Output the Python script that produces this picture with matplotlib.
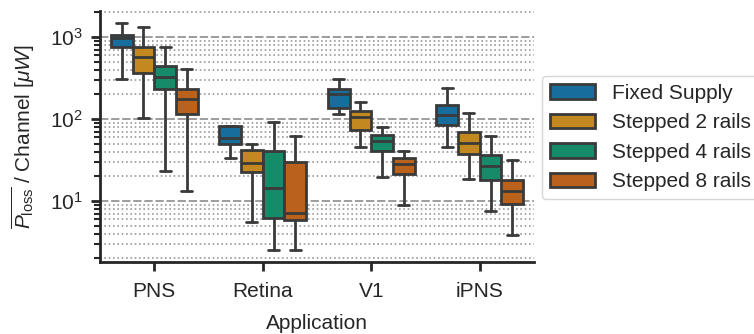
import matplotlib
matplotlib.use("Agg")
import matplotlib.pyplot as plt
import seaborn as sns
from matplotlib.patches import Patch

# ---- data ----
applications = ["PNS", "Retina", "V1", "iPNS"]
series = ["Fixed Supply", "Stepped 2 rails", "Stepped 4 rails", "Stepped 8 rails"]

# per series: values for each application
whislo = {
    "Fixed Supply":    [305, 33.7, 114, 46],
    "Stepped 2 rails": [102, 5.5, 45.6, 18.5],
    "Stepped 4 rails": [23, 2.52, 19.6, 7.6],
    "Stepped 8 rails": [13.1, 2.52, 8.87, 3.82],
}
q1 = {
    "Fixed Supply":    [762, 49, 135, 84.5],
    "Stepped 2 rails": [367, 22.4, 74, 37.8],
    "Stepped 4 rails": [234, 6.15, 40.8, 18],
    "Stepped 8 rails": [114, 5.87, 21.2, 9.2],
}
med = {
    "Fixed Supply":    [980, 59, 200, 112],
    "Stepped 2 rails": [575, 28.8, 106, 51.4],
    "Stepped 4 rails": [328, 14.5, 54, 26.5],
    "Stepped 8 rails": [174, 7.08, 28, 13.1],
}
q3 = {
    "Fixed Supply":    [1067, 82.8, 232, 147],
    "Stepped 2 rails": [755, 41.5, 126, 70],
    "Stepped 4 rails": [440, 40.8, 64.4, 36],
    "Stepped 8 rails": [232, 29.7, 33.2, 18],
}
whishi = {
    "Fixed Supply":    [1468, 82.8, 310, 241],
    "Stepped 2 rails": [1312, 49, 160, 119],
    "Stepped 4 rails": [749, 92.7, 79.8, 62.5],
    "Stepped 8 rails": [407, 62, 40.8, 31.6],
}

# ---- style ----
sns.set_style("ticks")
plt.rcParams["font.family"] = ["Liberation Sans", "DejaVu Sans"]
plt.rcParams["mathtext.fontset"] = "custom"
plt.rcParams["mathtext.rm"] = "Liberation Sans"
plt.rcParams["mathtext.it"] = "Liberation Sans:italic"
plt.rcParams["mathtext.bf"] = "Liberation Sans:bold"

colors = sns.color_palette("colorblind", 4, desat=0.75)
edge = "#3a3a3a"
fs = 15

fig = plt.figure(figsize=(7.54, 3.34), dpi=100)
ax = fig.add_axes([100 / 754, 1 - 262 / 334, 434 / 754, 251 / 334])

width = 0.2
for j, s in enumerate(series):
    stats = []
    positions = []
    for i, app in enumerate(applications):
        stats.append(dict(whislo=whislo[s][i], q1=q1[s][i], med=med[s][i],
                          q3=q3[s][i], whishi=whishi[s][i], fliers=[]))
        positions.append(i + (j - 1.5) * width)
    ax.bxp(stats, positions=positions, widths=width, patch_artist=True,
           showfliers=False, manage_ticks=False,
           boxprops=dict(facecolor=colors[j], edgecolor=edge, linewidth=2),
           medianprops=dict(color=edge, linewidth=2),
           whiskerprops=dict(color=edge, linewidth=2),
           capprops=dict(color=edge, linewidth=2))

ax.set_yscale("log")
ax.set_ylim(1.8, 2080)
ax.set_xlim(-0.5, 3.5)
ax.set_xticks(range(len(applications)))
ax.set_xticklabels(applications)

ax.grid(True, which="major", axis="y", linestyle=(0, (5, 1.65)), color="#8c8c8c", linewidth=1.2)
ax.grid(True, which="minor", axis="y", linestyle=(0, (1, 1.6)), color="#9a9a9a", linewidth=1.2)
ax.set_axisbelow(True)

for sp in ["top", "right"]:
    ax.spines[sp].set_visible(False)
for sp in ["left", "bottom"]:
    ax.spines[sp].set_linewidth(2)
    ax.spines[sp].set_color("#262626")

ax.tick_params(axis="both", which="major", labelsize=fs, width=2, length=6.5, pad=6,
               color="#262626", labelcolor="#262626")
ax.tick_params(axis="x", which="major", pad=8)
ax.tick_params(axis="y", which="minor", width=1.5, length=4, color="#262626")

ax.set_xlabel("Application", fontsize=fs, color="#262626", labelpad=9)
ax.set_ylabel(r"$\overline{P_{\mathrm{loss}}}$ / Channel [$\mu W$]", fontsize=fs,
              color="#262626", labelpad=9)

handles = [Patch(facecolor=colors[j], edgecolor=edge, linewidth=2, label=s)
           for j, s in enumerate(series)]
leg = ax.legend(handles=handles, loc="center left", bbox_to_anchor=(1.018, 0.496),
                borderaxespad=0, fontsize=fs, frameon=True, handlelength=2.15,
                handletextpad=0.8)
leg.get_frame().set_edgecolor("#cccccc")
for t in leg.get_texts():
    t.set_color("#262626")

fig.savefig("out.png", dpi=100)
